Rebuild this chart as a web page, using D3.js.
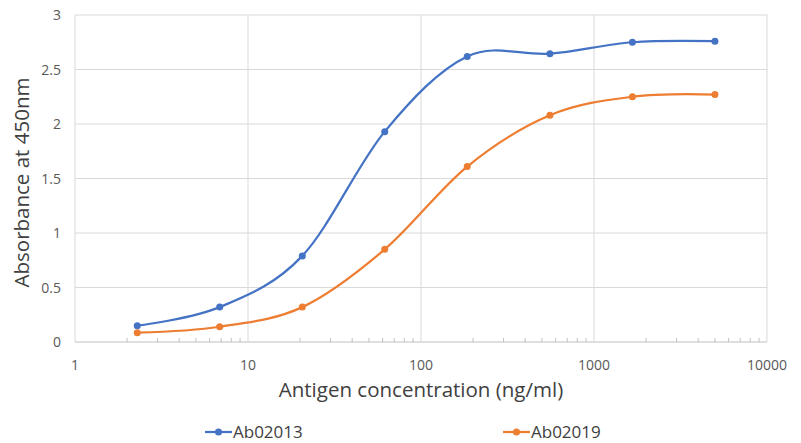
<!DOCTYPE html>
<html>
<head>
<meta charset="utf-8">
<script src="https://cdn.jsdelivr.net/npm/d3@7"></script>
<style>
  body { margin: 0; background: #fff; }
  text { font-family: "Open Sans", Lato, sans-serif; }
</style>
</head>
<body>
<svg id="chart" width="801" height="443"></svg>
<script>
// 3-fold dilutions from 5000 ng/ml
const conc = [2.29, 6.86, 20.6, 61.7, 185, 556, 1667, 5000]
const ab02013 = [0.15, 0.32, 0.79, 1.93, 2.62, 2.645, 2.75, 2.76]
const ab02019 = [0.085, 0.14, 0.32, 0.85, 1.61, 2.08, 2.25, 2.27]
const seriesNames = ['Ab02013', 'Ab02019']
const seriesColors = ['#4472C4', '#ED7D31']
const xTicks = [1, 10, 100, 1000, 10000]
const yTicks = [0, 0.5, 1, 1.5, 2, 2.5, 3]

const margin = {top: 15, right: 34, bottom: 101, left: 75}
const width = 801, height = 443

const svg = d3.select('#chart')

const x = d3.scaleLog()
    .domain([1, 10000])
    .range([margin.left, width - margin.right])
const y = d3.scaleLinear()
    .domain([0, 3])
    .range([height - margin.bottom, margin.top])

// gridlines
svg.append('g')
    .selectAll('line')
    .data(yTicks)
    .enter()
    .append('line')
    .attr('x1', x(1)).attr('x2', x(10000))
    .attr('y1', d => y(d)).attr('y2', d => y(d))
    .attr('stroke', d => d === 0 ? '#bfbfbf' : '#d9d9d9')
    .attr('stroke-width', 1)

svg.append('g')
    .selectAll('line')
    .data(xTicks)
    .enter()
    .append('line')
    .attr('x1', d => x(d)).attr('x2', d => x(d))
    .attr('y1', y(0)).attr('y2', y(3))
    .attr('stroke', '#d9d9d9')

// minor ticks on x axis
let minor = []
for (let dec = 1; dec < 10000; dec *= 10)
    for (let k = 2; k <= 9; k++) minor.push(dec * k)
svg.append('g')
    .selectAll('line')
    .data(minor)
    .enter()
    .append('line')
    .attr('x1', d => x(d)).attr('x2', d => x(d))
    .attr('y1', y(0)).attr('y2', y(0) - 4)
    .attr('stroke', '#bfbfbf')

// tick labels
svg.append('g')
    .selectAll('text')
    .data(yTicks)
    .enter()
    .append('text')
    .attr('x', 61)
    .attr('y', d => y(d) + 5)
    .attr('text-anchor', 'end')
    .attr('font-size', 14)
    .attr('fill', '#595959')
    .text(d => d)

svg.append('g')
    .selectAll('text')
    .data(xTicks)
    .enter()
    .append('text')
    .attr('x', d => x(d))
    .attr('y', y(0) + 28)
    .attr('text-anchor', 'middle')
    .attr('font-size', 14)
    .attr('fill', '#595959')
    .text(d => d)

// axis titles
svg.append('text')
    .attr('x', (x(1) + x(10000)) / 2)
    .attr('y', 397)
    .attr('text-anchor', 'middle')
    .attr('font-size', 20.5)
    .attr('fill', '#404040')
    .text('Antigen concentration (ng/ml)')

svg.append('text')
    .attr('transform', 'translate(29,' + ((y(0) + y(3)) / 2 + 4) + ') rotate(-90)')
    .attr('text-anchor', 'middle')
    .attr('font-size', 20.5)
    .attr('fill', '#404040')
    .text('Absorbance at 450nm')

// lines
const line = d3.line()
    .x(d => x(d[0]))
    .y(d => y(d[1]))
    .curve(d3.curveCatmullRom.alpha(0))

const allSeries = [ab02013, ab02019]
allSeries.forEach(function (vals, i) {
    let pts = conc.map((c, j) => [c, vals[j]])
    svg.append('path')
        .datum(pts)
        .attr('d', line)
        .attr('fill', 'none')
        .attr('stroke', seriesColors[i])
        .attr('stroke-width', 2.25)
    svg.append('g')
        .selectAll('circle')
        .data(pts)
        .enter()
        .append('circle')
        .attr('cx', d => x(d[0]))
        .attr('cy', d => y(d[1]))
        .attr('r', 3.5)
        .attr('fill', seriesColors[i])
})

// legend
const legendX = [205, 503]
seriesNames.forEach(function (name, i) {
    let g = svg.append('g')
    g.append('line')
        .attr('x1', legendX[i]).attr('x2', legendX[i] + 27)
        .attr('y1', 432).attr('y2', 432)
        .attr('stroke', seriesColors[i])
        .attr('stroke-width', 2.25)
    g.append('circle')
        .attr('cx', legendX[i] + 13.5).attr('cy', 432)
        .attr('r', 3.5)
        .attr('fill', seriesColors[i])
    g.append('text')
        .attr('x', legendX[i] + 28)
        .attr('y', 438)
        .attr('font-size', 17)
        .attr('fill', '#404040')
        .text(name)
})
</script>
</body>
</html>
